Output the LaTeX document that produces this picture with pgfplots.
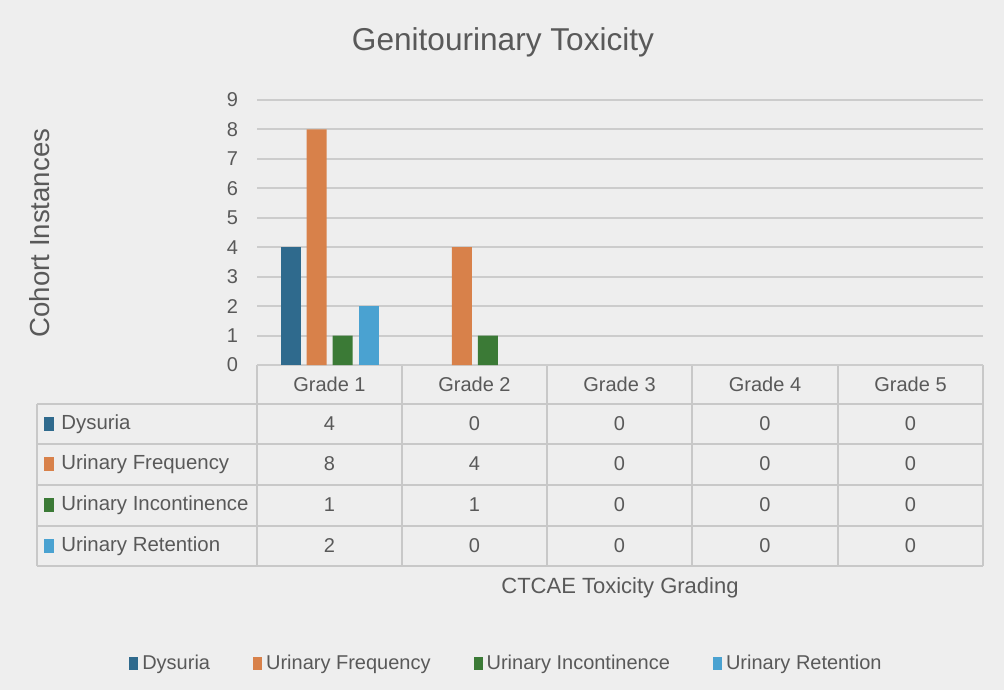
\documentclass[border=0pt]{standalone}
\usepackage{pgfplots}
\pgfplotsset{compat=1.18}
\usepackage{fontspec}
\setmainfont{Liberation Sans}
\definecolor{bgc}{HTML}{EEEEEE}
\definecolor{txt}{HTML}{595959}
\definecolor{gridc}{HTML}{CCCCCC}
\definecolor{tabc}{HTML}{C8C8C8}
\definecolor{cD}{HTML}{2F6A8D}
\definecolor{cF}{HTML}{D8814A}
\definecolor{cI}{HTML}{3B7A36}
\definecolor{cR}{HTML}{4AA2D1}
\begin{document}
\begin{tikzpicture}
\begin{scope}[x=0.5pt,y=-0.5pt]
\fill[bgc] (0,0) rectangle (1004,690);
\node[txt,font=\fontsize{15.8}{18}\selectfont] at (503,42) {Genitourinary Toxicity};
\node[txt,rotate=90,font=\fontsize{13.8}{16}\selectfont] at (40,233) {Cohort Instances};
\node[txt,font=\fontsize{11}{13}\selectfont] at (620,588) {CTCAE Toxicity Grading};
% table grid
\draw[tabc,line width=1pt] (257,365) -- (983,365);
\foreach \yy in {404,444,485,526,566} \draw[tabc,line width=1pt] (37,\yy) -- (983,\yy);
\draw[tabc,line width=1pt] (37,404) -- (37,566);
\foreach \xx in {257,402,547,692,838,983} \draw[tabc,line width=1pt] (\xx,365) -- (\xx,566);
% header
\foreach \xx/\g in {329.5/1,474.5/2,619.5/3,765/4,910.5/5}
  \node[txt,font=\fontsize{10}{12}\selectfont] at (\xx,384) {Grade \g};
% row labels
\foreach \yy/\c/\lab in {424/cD/Dysuria,464/cF/Urinary Frequency,505/cI/Urinary Incontinence,546/cR/Urinary Retention}{
  \fill[\c] (44,\yy-7) rectangle (54,\yy+7);
  \node[txt,anchor=west,inner sep=0pt,font=\fontsize{10.2}{12}\selectfont] at (61,\yy) {\lab};
}
% values
\foreach \yy/\a/\b/\c/\d/\e in {424/4/0/0/0/0,464/8/4/0/0/0,505/1/1/0/0/0,546/2/0/0/0/0}{
  \node[txt,font=\fontsize{10}{12}\selectfont] at (329.5,\yy) {\a};
  \node[txt,font=\fontsize{10}{12}\selectfont] at (474.5,\yy) {\b};
  \node[txt,font=\fontsize{10}{12}\selectfont] at (619.5,\yy) {\c};
  \node[txt,font=\fontsize{10}{12}\selectfont] at (765,\yy) {\d};
  \node[txt,font=\fontsize{10}{12}\selectfont] at (910.5,\yy) {\e};
}
\end{scope}
\begin{axis}[
  at={(128.5pt,-182.5pt)}, anchor=south west,
  scale only axis, width=363pt, height=132.5pt,
  xmin=0.5, xmax=5.5, ymin=0, ymax=9,
  ybar=3pt, bar width=10pt,
  axis line style={draw=none},
  xtick=\empty,
  ytick={0,1,...,9},
  ymajorgrids, grid style={gridc,line width=1pt},
  major tick length=0pt,
  /pgf/number format/assume math mode=true,
  yticklabel style={txt,font=\fontsize{10}{12}\selectfont,xshift=-6pt},
  legend columns=4,
  legend style={at={(0.345,-1.128)},anchor=center,draw=none,fill=none,
    text=txt,font=\fontsize{10}{12}\selectfont,
    /tikz/every even column/.append style={column sep=19.5pt}},
  legend image code/.code={\fill[#1] (0pt,-3pt) rectangle (4.5pt,3.5pt);},
]
\addplot[fill=cD,draw=none] coordinates {(1,4)};
\addplot[fill=cF,draw=none] coordinates {(1,8) (2,4)};
\addplot[fill=cI,draw=none] coordinates {(1,1) (2,1)};
\addplot[fill=cR,draw=none] coordinates {(1,2)};
\legend{Dysuria,Urinary Frequency,Urinary Incontinence,Urinary Retention}
\end{axis}
\end{tikzpicture}
\end{document}
